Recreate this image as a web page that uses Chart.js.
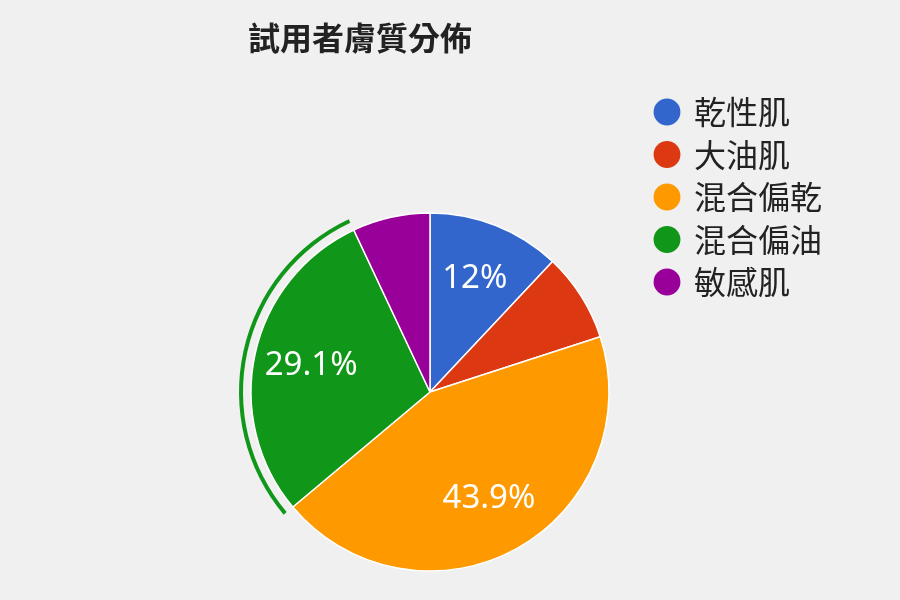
<!DOCTYPE html>
<html>
<head>
<meta charset="utf-8">
<script src="https://cdn.jsdelivr.net/npm/chart.js@4/dist/chart.umd.min.js"></script>
<style>
  html, body { margin: 0; padding: 0; background: #f0f0f0; }
  canvas { display: block; }
</style>
</head>
<body>
<canvas id="skinPie" width="900" height="600"></canvas>
<script>
// 試用者膚質分佈 (percent)
var skinTypes = ['乾性肌', '大油肌', '混合偏乾', '混合偏油', '敏感肌'];
var skinShares = [12, 8, 43.9, 29.1, 7];
var sliceColors = ['#3366cc', '#dc3912', '#ff9900', '#109618', '#990099'];
var highlightIndex = 3;

var cjk = "'Noto Sans CJK TC', 'Noto Sans', sans-serif";

// ring over the highlighted slice only
var ringColors = sliceColors.map(function (c, i) {
    return i === highlightIndex ? c : 'rgba(0,0,0,0)';
});

var sliceLabels = {
    id: 'sliceLabels',
    afterDatasetsDraw: function (chart) {
        var meta = chart.getDatasetMeta(2);
        var data = chart.data.datasets[2].data;
        var total = data.reduce(function (a, b) { return a + b; }, 0);
        var ctx = chart.ctx;
        ctx.save();
        ctx.fillStyle = '#ffffff';
        ctx.font = "33px 'Noto Sans', sans-serif";
        ctx.textAlign = 'center';
        ctx.textBaseline = 'middle';
        meta.data.forEach(function (arc, i) {
            var pct = data[i] / total * 100;
            if (pct < 10) return;
            var p = arc.getProps(['x', 'y', 'startAngle', 'endAngle', 'outerRadius'], true);
            var mid = (p.startAngle + p.endAngle) / 2;
            var r = p.outerRadius * 0.68;
            ctx.fillText(Number(pct.toFixed(1)) + '%', p.x + Math.cos(mid) * r, p.y + Math.sin(mid) * r);
        });
        ctx.restore();
    }
};

var ctx = document.getElementById('skinPie').getContext('2d');
var skinChart = new Chart(ctx, {
    type: 'pie',
    data: {
        labels: skinTypes,
        datasets: [{
            data: skinShares,
            backgroundColor: ringColors,
            borderWidth: 0,
            weight: 4
        }, {
            data: skinShares,
            backgroundColor: 'rgba(0,0,0,0)',
            borderWidth: 0,
            weight: 8
        }, {
            data: skinShares,
            backgroundColor: sliceColors,
            borderColor: '#ffffff',
            borderWidth: 1.5,
            weight: 179
        }]
    },
    options: {
        responsive: false,
        animation: false,
        events: [],
        radius: 191,
        layout: { padding: { left: 248, right: 68, top: 0, bottom: 0 } },
        plugins: {
            title: {
                display: true,
                text: '試用者膚質分佈',
                align: 'start',
                color: '#222222',
                font: { family: cjk, size: 32, weight: 'bold' },
                padding: { top: 19, bottom: 126.6 }
            },
            // empty spacer box between the pie and the legend
            subtitle: {
                display: true,
                text: '',
                position: 'right',
                weight: 500,
                font: { size: 10 },
                padding: { top: 0, bottom: 21.5 }
            },
            legend: {
                position: 'right',
                align: 'start',
                maxWidth: 300,
                title: {
                    display: true,
                    text: '',
                    font: { size: 10 },
                    padding: { top: 0, bottom: 73.5 }
                },
                labels: {
                    usePointStyle: true,
                    boxWidth: 22,
                    boxHeight: 19,
                    padding: 10.5,
                    color: '#222222',
                    font: { family: cjk, size: 32 },
                    generateLabels: function () {
                        return skinTypes.map(function (label, i) {
                            return {
                                text: label,
                                fillStyle: sliceColors[i],
                                strokeStyle: sliceColors[i],
                                lineWidth: 0,
                                pointStyle: 'circle',
                                fontColor: '#222222',
                                hidden: false,
                                index: i
                            };
                        });
                    }
                }
            },
            tooltip: { enabled: false }
        }
    },
    plugins: [sliceLabels]
});
</script>
</body>
</html>
